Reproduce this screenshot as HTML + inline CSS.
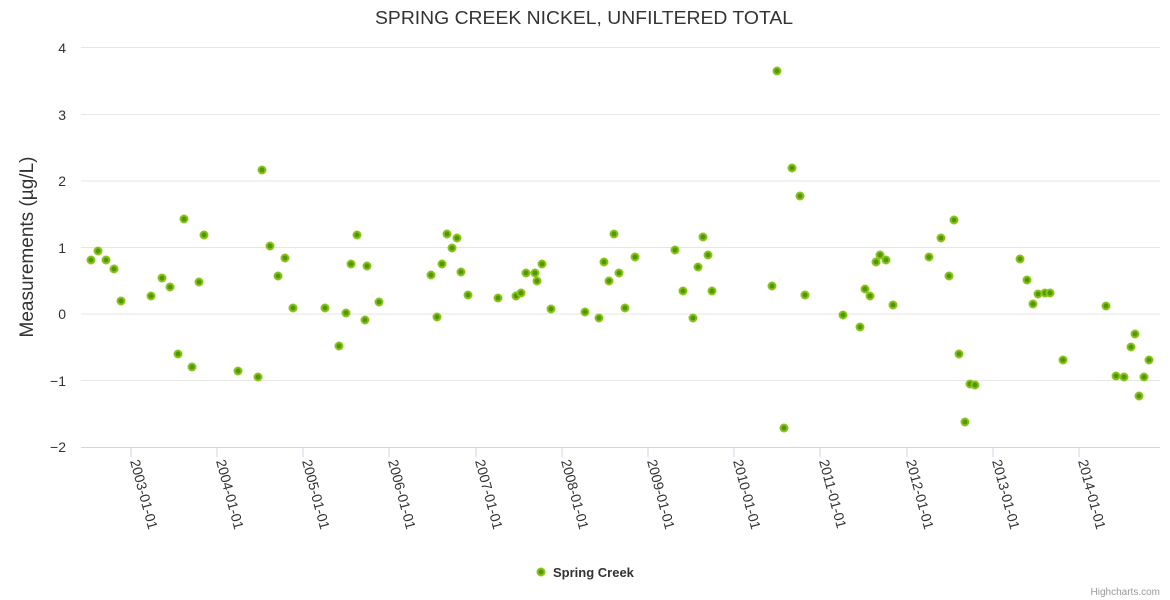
<!DOCTYPE html>
<html><head><meta charset="utf-8"><style>
html,body{margin:0;padding:0;background:#fff}
svg{display:block;font-family:"Liberation Sans",sans-serif}
.p circle{fill:#4c9a00;stroke:#8cc21a;stroke-width:2}
</style></head><body>
<svg width="1170" height="600" viewBox="0 0 1170 600">
<text x="375" y="24" font-size="18" fill="#333" textLength="418" lengthAdjust="spacingAndGlyphs">SPRING CREEK NICKEL, UNFILTERED TOTAL</text>
<g stroke="#e6e6e6" stroke-width="1">
<line x1="81" x2="1160" y1="47.5" y2="47.5"/>
<line x1="81" x2="1160" y1="114.5" y2="114.5"/>
<line x1="81" x2="1160" y1="181" y2="181"/>
<line x1="81" x2="1160" y1="247.5" y2="247.5"/>
<line x1="81" x2="1160" y1="314" y2="314"/>
<line x1="81" x2="1160" y1="380.5" y2="380.5"/>
</g>
<line x1="81" x2="1160" y1="447.5" y2="447.5" stroke="#ccd6eb"/>
<g font-size="14" fill="#333" text-anchor="end">
<text x="66" y="53">4</text><text x="66" y="120">3</text><text x="66" y="186">2</text>
<text x="66" y="253">1</text><text x="66" y="319">0</text><text x="66" y="386">−1</text><text x="66" y="452">−2</text>
</g>
<text transform="translate(33,247) rotate(-90)" text-anchor="middle" font-size="19" fill="#333">Measurements (µg/L)</text>
<g stroke="#ccd6eb">
<line x1="131" x2="131" y1="447" y2="457"/><line x1="217" x2="217" y1="447" y2="457"/>
<line x1="303" x2="303" y1="447" y2="457"/><line x1="389" x2="389" y1="447" y2="457"/>
<line x1="476" x2="476" y1="447" y2="457"/><line x1="562" x2="562" y1="447" y2="457"/>
<line x1="648" x2="648" y1="447" y2="457"/><line x1="734" x2="734" y1="447" y2="457"/>
<line x1="820" x2="820" y1="447" y2="457"/><line x1="907" x2="907" y1="447" y2="457"/>
<line x1="993" x2="993" y1="447" y2="457"/><line x1="1079" x2="1079" y1="447" y2="457"/>
</g>
<g font-size="14" fill="#333">
<text transform="translate(130,461) rotate(75)">2003-01-01</text>
<text transform="translate(216,461) rotate(75)">2004-01-01</text>
<text transform="translate(302,461) rotate(75)">2005-01-01</text>
<text transform="translate(388,461) rotate(75)">2006-01-01</text>
<text transform="translate(475,461) rotate(75)">2007-01-01</text>
<text transform="translate(561,461) rotate(75)">2008-01-01</text>
<text transform="translate(647,461) rotate(75)">2009-01-01</text>
<text transform="translate(733,461) rotate(75)">2010-01-01</text>
<text transform="translate(819,461) rotate(75)">2011-01-01</text>
<text transform="translate(906,461) rotate(75)">2012-01-01</text>
<text transform="translate(992,461) rotate(75)">2013-01-01</text>
<text transform="translate(1078,461) rotate(75)">2014-01-01</text>
</g>
<g class="p">
<circle cx="91" cy="260" r="3.5"/><circle cx="98" cy="251" r="3.5"/><circle cx="106" cy="260" r="3.5"/><circle cx="114" cy="269" r="3.5"/><circle cx="121" cy="301" r="3.5"/>
<circle cx="151" cy="296" r="3.5"/><circle cx="162" cy="278" r="3.5"/><circle cx="170" cy="287" r="3.5"/><circle cx="178" cy="354" r="3.5"/><circle cx="184" cy="219" r="3.5"/>
<circle cx="192" cy="367" r="3.5"/><circle cx="199" cy="282" r="3.5"/><circle cx="204" cy="235" r="3.5"/><circle cx="238" cy="371" r="3.5"/><circle cx="258" cy="377" r="3.5"/>
<circle cx="262" cy="170" r="3.5"/><circle cx="270" cy="246" r="3.5"/><circle cx="278" cy="276" r="3.5"/><circle cx="285" cy="258" r="3.5"/><circle cx="293" cy="308" r="3.5"/>
<circle cx="325" cy="308" r="3.5"/><circle cx="339" cy="346" r="3.5"/><circle cx="346" cy="313" r="3.5"/><circle cx="351" cy="264" r="3.5"/><circle cx="357" cy="235" r="3.5"/>
<circle cx="365" cy="320" r="3.5"/><circle cx="367" cy="266" r="3.5"/><circle cx="379" cy="302" r="3.5"/>
<circle cx="431" cy="275" r="3.5"/><circle cx="437" cy="317" r="3.5"/><circle cx="442" cy="264" r="3.5"/><circle cx="447" cy="234" r="3.5"/><circle cx="452" cy="248" r="3.5"/>
<circle cx="457" cy="238" r="3.5"/><circle cx="461" cy="272" r="3.5"/><circle cx="468" cy="295" r="3.5"/><circle cx="498" cy="298" r="3.5"/><circle cx="516" cy="296" r="3.5"/>
<circle cx="521" cy="293" r="3.5"/><circle cx="526" cy="273" r="3.5"/><circle cx="535" cy="273" r="3.5"/><circle cx="537" cy="281" r="3.5"/><circle cx="542" cy="264" r="3.5"/>
<circle cx="551" cy="309" r="3.5"/><circle cx="585" cy="312" r="3.5"/><circle cx="599" cy="318" r="3.5"/><circle cx="604" cy="262" r="3.5"/><circle cx="609" cy="281" r="3.5"/>
<circle cx="614" cy="234" r="3.5"/><circle cx="619" cy="273" r="3.5"/><circle cx="625" cy="308" r="3.5"/><circle cx="635" cy="257" r="3.5"/><circle cx="675" cy="250" r="3.5"/>
<circle cx="683" cy="291" r="3.5"/><circle cx="693" cy="318" r="3.5"/><circle cx="698" cy="267" r="3.5"/><circle cx="703" cy="237" r="3.5"/><circle cx="708" cy="255" r="3.5"/>
<circle cx="712" cy="291" r="3.5"/><circle cx="772" cy="286" r="3.5"/><circle cx="777" cy="71" r="3.5"/><circle cx="784" cy="428" r="3.5"/><circle cx="792" cy="168" r="3.5"/>
<circle cx="800" cy="196" r="3.5"/><circle cx="805" cy="295" r="3.5"/><circle cx="843" cy="315" r="3.5"/><circle cx="860" cy="327" r="3.5"/><circle cx="865" cy="289" r="3.5"/>
<circle cx="870" cy="296" r="3.5"/><circle cx="876" cy="262" r="3.5"/><circle cx="880" cy="255" r="3.5"/><circle cx="886" cy="260" r="3.5"/><circle cx="893" cy="305" r="3.5"/>
<circle cx="929" cy="257" r="3.5"/><circle cx="941" cy="238" r="3.5"/><circle cx="949" cy="276" r="3.5"/><circle cx="954" cy="220" r="3.5"/><circle cx="959" cy="354" r="3.5"/>
<circle cx="965" cy="422" r="3.5"/><circle cx="970" cy="384" r="3.5"/><circle cx="975" cy="385" r="3.5"/><circle cx="1020" cy="259" r="3.5"/><circle cx="1027" cy="280" r="3.5"/>
<circle cx="1033" cy="304" r="3.5"/><circle cx="1038" cy="294" r="3.5"/><circle cx="1045" cy="293" r="3.5"/><circle cx="1050" cy="293" r="3.5"/><circle cx="1063" cy="360" r="3.5"/>
<circle cx="1106" cy="306" r="3.5"/><circle cx="1116" cy="376" r="3.5"/><circle cx="1124" cy="377" r="3.5"/><circle cx="1131" cy="347" r="3.5"/><circle cx="1135" cy="334" r="3.5"/>
<circle cx="1139" cy="396" r="3.5"/><circle cx="1144" cy="377" r="3.5"/><circle cx="1149" cy="360" r="3.5"/>
<circle cx="541" cy="572" r="3.5"/>
</g>
<text x="553" y="577" font-size="13" font-weight="bold" fill="#333">Spring Creek</text>
<text x="1160" y="595" text-anchor="end" font-size="10" fill="#999">Highcharts.com</text>
</svg>
</body></html>
